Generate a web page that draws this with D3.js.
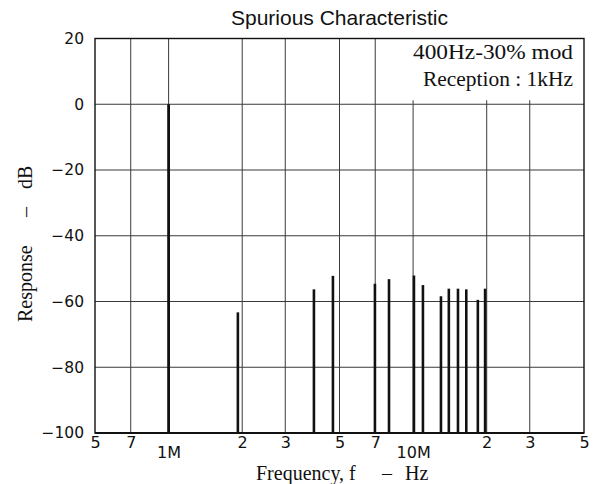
<!DOCTYPE html>
<html><head><meta charset="utf-8">
<script src="https://cdn.jsdelivr.net/npm/d3@7/dist/d3.min.js"></script>
<style>
body{margin:0;background:#fff;}
svg{display:block;}
</style></head>
<body>
<svg id="chart" width="595" height="484"></svg>
<script>
// ---- data ----
const spikeFreqHz = [1.0e6, 1.92e6, 3.93e6, 4.70e6, 6.98e6, 7.97e6, 10.08e6, 10.97e6, 13.0e6, 14.0e6, 15.26e6, 16.5e6, 18.4e6, 19.7e6];
const spikeDb     = [0, -63.3, -56.3, -52.2, -54.6, -53.2, -52.1, -55, -58.4, -56.1, -56.1, -56.3, -59.5, -56.1];
const xTickValues = [0.5e6, 0.7e6, 1e6, 2e6, 3e6, 5e6, 7e6, 10e6, 20e6, 30e6, 50e6];
const xTickLabels = ["5", "7", "1M", "2", "3", "5", "7", "10M", "2", "3", "5"];
const xGridValues = [0.7e6, 1e6, 2e6, 3e6, 5e6, 7e6, 10e6, 20e6, 30e6];
const yTickValues = [20, 0, -20, -40, -60, -80, -100];
const yTickLabels = ["20", "0", "\u221220", "\u221240", "\u221260", "\u221280", "\u2212100"];
const yGridValues = [0, -20, -40, -60, -80];
const titleText = "Spurious Characteristic";
const legendLines = ["400Hz-30% mod", "Reception : 1kHz"];

// ---- layout ----
const L = 95, R = 584, T = 38.5, B = 433;
const svg = d3.select("#chart");
const x = d3.scaleLog().domain([0.5e6, 50e6]).range([L, R]);
const y = d3.scaleLinear().domain([-100, 20]).range([B, T]);

const serif = "'Liberation Serif', 'Times New Roman', serif";
const sans = "'DejaVu Sans', 'Liberation Sans', sans-serif";

// grid
const g = svg.append("g");
g.selectAll("line.h").data(yGridValues).join("line")
  .attr("x1", L).attr("x2", R)
  .attr("y1", d => y(d)).attr("y2", d => y(d))
  .attr("stroke", "#3a3a3a").attr("stroke-width", 1);
g.selectAll("line.v").data(xGridValues).join("line")
  .attr("x1", d => x(d)).attr("x2", d => x(d))
  .attr("y1", d => d >= 10e6 ? y(0) - 4 : T)
  .attr("y2", B)
  .attr("stroke", "#3a3a3a").attr("stroke-width", 1);

// spikes
svg.append("g").selectAll("line").data(spikeFreqHz).join("line")
  .attr("x1", d => x(d)).attr("x2", d => x(d))
  .attr("y1", B).attr("y2", (d, i) => y(spikeDb[i]))
  .attr("stroke", "#111").attr("stroke-width", (d, i) => i === 0 ? 2.8 : 2.6);

// frame
svg.append("rect").attr("x", L).attr("y", T).attr("width", R - L).attr("height", B - T)
  .attr("fill", "none").attr("stroke", "#111").attr("stroke-width", 1.4);
svg.append("line").attr("x1", L).attr("x2", R).attr("y1", B).attr("y2", B)
  .attr("stroke", "#111").attr("stroke-width", 2);

// y axis
const yAxis = d3.axisLeft(y).tickValues(yTickValues)
  .tickFormat((d, i) => yTickLabels[i]).tickSize(0).tickPadding(11);
const ya = svg.append("g").attr("transform", `translate(${L},0)`).call(yAxis);
ya.select(".domain").remove();
ya.selectAll("text").attr("font-family", sans).attr("font-size", 15.5).attr("fill", "#111");

// x axis
const xAxis = d3.axisBottom(x).tickValues(xTickValues)
  .tickFormat((d, i) => xTickLabels[i]).tickSize(0).tickPadding(3);
const xa = svg.append("g").attr("transform", `translate(0,${B})`).call(xAxis);
xa.select(".domain").remove();
xa.selectAll("text").attr("font-family", sans).attr("font-size", 16).attr("fill", "#111")
  .attr("dy", (d, i) => (xTickLabels[i].endsWith("M") ? "1.35em" : "0.72em"));

// title
svg.append("text").attr("x", (L + R) / 2).attr("y", 25).attr("text-anchor", "middle")
  .attr("font-family", "'Liberation Sans', Arial, sans-serif").attr("font-size", 21)
  .attr("fill", "#111").text(titleText);

// legend
svg.append("g").selectAll("text").data(legendLines).join("text")
  .attr("x", 573).attr("y", (d, i) => 59 + i * 27).attr("text-anchor", "end")
  .attr("font-family", serif).attr("font-size", 21).attr("fill", "#111")
  .attr("textLength", (d, i) => i === 0 ? 160 : 150).attr("lengthAdjust", "spacingAndGlyphs")
  .text(d => d);

// x label
const xl = svg.append("text").attr("y", 480).attr("font-family", serif).attr("font-size", 20).attr("fill", "#111");
xl.append("tspan").attr("x", 256).text("Frequency, f");
xl.append("tspan").attr("x", 382).text("\u2013");
xl.append("tspan").attr("x", 405).text("Hz");

// y label
const ylab = svg.append("text").attr("transform", "translate(32,0) rotate(-90)")
  .attr("font-family", serif).attr("font-size", 20).attr("fill", "#111");
ylab.append("tspan").attr("x", -322).text("Response");
ylab.append("tspan").attr("x", -217).text("\u2013");
ylab.append("tspan").attr("x", -189).text("dB");
</script>
</body></html>
